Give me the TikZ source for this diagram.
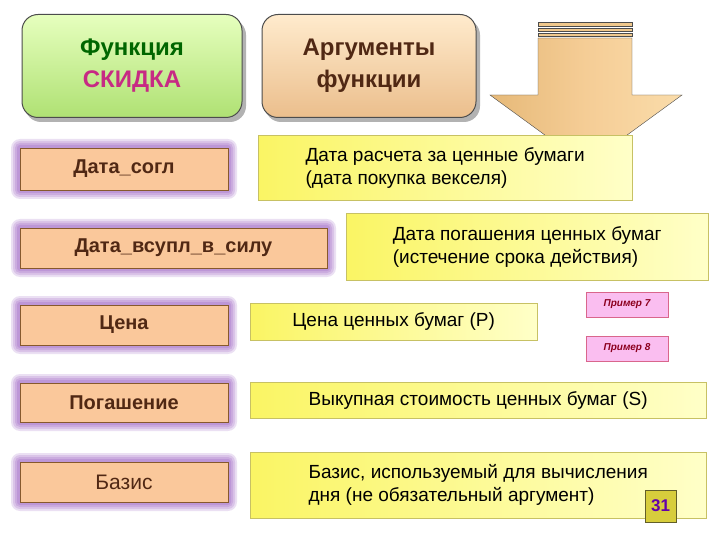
\documentclass[tikz,border=0pt]{standalone}
\usepackage{fontspec}
\setmainfont{Liberation Sans}
\definecolor{salmon}{RGB}{250,200,155}
\definecolor{brn}{RGB}{80,40,20}
\definecolor{yelA}{RGB}{250,245,100}
\definecolor{yelB}{RGB}{255,255,200}
\definecolor{pinkf}{RGB}{250,190,240}
\definecolor{prtext}{RGB}{140,0,30}
\definecolor{grA}{RGB}{230,255,190}
\definecolor{grB}{RGB}{175,225,115}
\definecolor{orA}{RGB}{255,235,205}
\definecolor{orB}{RGB}{235,190,140}
\definecolor{arA}{RGB}{230,185,120}
\definecolor{arB}{RGB}{250,220,170}
\definecolor{arC}{RGB}{245,205,150}
\definecolor{arS}{RGB}{240,200,140}
\definecolor{numf}{RGB}{215,205,60}
\definecolor{numt}{RGB}{100,0,170}
\begin{document}
\begin{tikzpicture}[x=1pt,y=-1pt,
 lbl/.style={draw=brown!70!black,line width=0.8pt,fill=salmon,font=\bfseries\fontsize{20}{22}\selectfont,text=brn,inner sep=0pt},
 yb/.style={draw=olive!50,left color=yelA,right color=yelB,font=\fontsize{19}{23}\selectfont,align=left,anchor=north west,inner sep=5pt,text=black},
 pr/.style={draw=purple!60,fill=pinkf,font=\bfseries\itshape\fontsize{10}{12}\selectfont,text=prtext,minimum width=82pt,minimum height=25pt}]
\useasboundingbox (0,0) rectangle (720,540);
\fill[white] (0,0) rectangle (720,540);
% top boxes
\fill[gray!60,rounded corners=16pt] (25,19) rectangle (246,122);
\node[draw=gray!60!black,line width=1pt,rounded corners=16pt,top color=grA,bottom color=grB,minimum width=220pt,minimum height=103pt,align=center,font=\bfseries\fontsize{24}{32}\selectfont] (f) at (132,66) {\textcolor{green!40!black}{Функция}\\\textcolor{magenta!80!black}{СКИДКА}};
\fill[gray!60,rounded corners=16pt] (265,19) rectangle (480,122);
\node[draw=gray!60!black,line width=1pt,rounded corners=16pt,top color=orA,bottom color=orB,minimum width=214pt,minimum height=103pt,align=center,font=\bfseries\fontsize{24}{32}\selectfont,text=brn] (a) at (369,66) {Аргументы\\функции};
% arrow
\draw[gray!60!black,left color=arA,right color=arB,middle color=arC] (538,38) -- (632,38) -- (632,95) -- (682,95) -- (586,165) -- (490,95) -- (538,95) -- cycle;
\foreach \y/\h in {22/4,28/3,33/3}{\fill[arS] (538,\y) rectangle (632,\y+\h);\draw[gray!60!black,line width=0.4pt] (538,\y) rectangle (632,\y+\h);}
% glows
\foreach \x/\y/\X/\Y in {20/148/228/190,20/228/327/268,20/305/228/345,20/383/228/422,20/462/228/502}{
 \foreach \g in {9,7,5,3}{\fill[blue!50!purple,opacity=0.12,rounded corners=\g pt] (\x-\g,\y-\g) rectangle (\X+\g,\Y+\g);}}
\node[lbl,minimum width=208pt,minimum height=42pt] (l1) at (124,169) {Дата\_согл};
\node[lbl,minimum width=307pt,minimum height=40pt] (l2) at (173.5,248) {Дата\_всупл\_в\_силу};
\node[lbl,minimum width=208pt,minimum height=40pt] (l3) at (124,325) {Цена};
\node[lbl,minimum width=208pt,minimum height=39pt] (l4) at (124,402.5) {Погашение};
\node[lbl,minimum width=208pt,minimum height=40pt,font=\fontsize{21}{22}\selectfont] (l5) at (124,482) {Базис};
% yellow
\node[yb,minimum width=374pt,minimum height=65pt] (y1) at (258,135) {Дата расчета за ценные бумаги\\(дата покупка векселя)};
\node[yb,minimum width=362pt,minimum height=67pt] (y2) at (346,213) {Дата погашения ценных бумаг\\(истечение срока действия)};
\node[yb,minimum width=287pt,minimum height=37pt,inner sep=4pt] (y3) at (250,303) {Цена ценных бумаг (Р)};
\node[yb,minimum width=456pt,minimum height=36pt,inner sep=4pt] (y4) at (250,382) {Выкупная стоимость ценных бумаг (S)};
\node[yb,minimum width=456pt,minimum height=66pt] (y5) at (250,452) {Базис, используемый для вычисления\\дня (не обязательный аргумент)};
\node[pr] (p7) at (627,304.5) {Пример 7};
\node[pr] (p8) at (627,348.5) {Пример 8};
\node[draw=olive!60!black,fill=numf,minimum width=31pt,minimum height=32pt,inner sep=0pt,font=\bfseries\fontsize{17}{18}\selectfont,text=numt] (n) at (660.5,506) {31};
\end{tikzpicture}
\end{document}
